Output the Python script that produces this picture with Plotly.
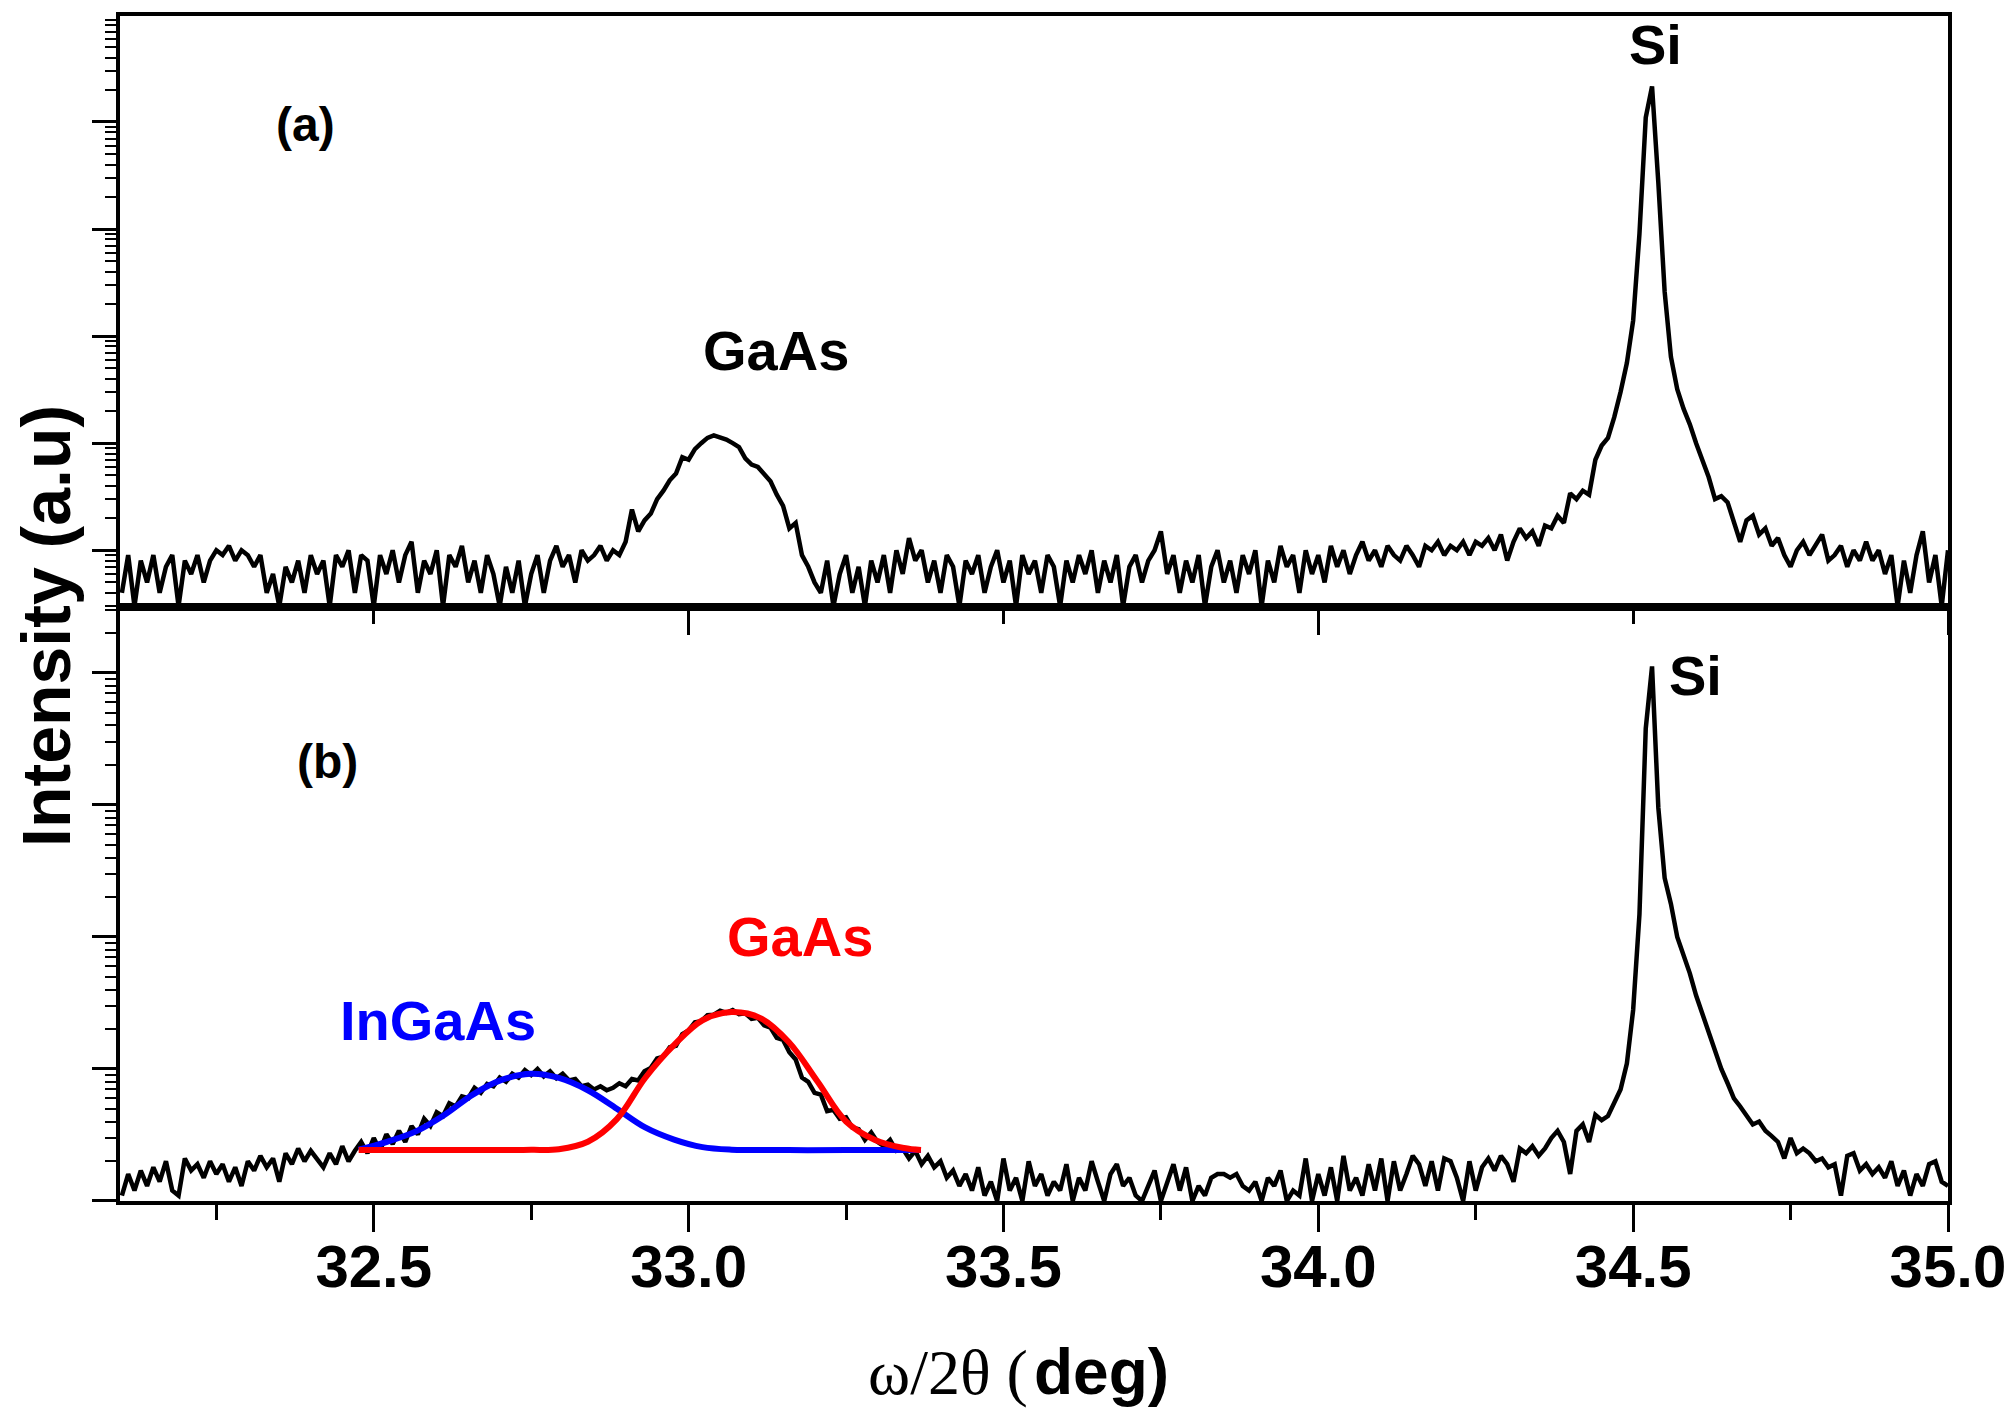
import numpy as np
import plotly.graph_objects as go
from plotly.subplots import make_subplots

# scan: omega/2theta from 32.10 to 35.00 deg, step 0.01
scan_start = 32.10
scan_step = 0.01

# (a) GaAs on Si, counts per step
counts_a = [
    4, 9, 3, 8, 5, 9, 4, 7, 9, 3,
    8, 6, 9, 5, 8, 10, 9, 11, 8, 10,
    9, 7, 9, 4, 6, 3, 7, 5, 8, 4,
    9, 6, 8, 3, 9, 7, 10, 4, 9, 8,
    3, 9, 6, 10, 5, 9, 12, 4, 8, 6,
    10, 3, 9, 7, 11, 5, 8, 4, 9, 6,
    3, 7, 4, 8, 3, 6, 9, 4, 8, 11,
    7, 9, 5, 10, 8, 9, 11, 8, 10, 9,
    12, 24, 15, 19, 22, 30, 36, 45, 52, 74,
    70, 88, 100, 112, 118, 114, 108, 100, 92, 72,
    63, 60, 52, 44, 33, 26, 16, 18, 9, 7,
    5, 4, 8, 3, 6, 9, 4, 7, 3, 8,
    5, 9, 4, 10, 6, 13, 8, 10, 5, 8,
    4, 9, 7, 3, 8, 6, 9, 4, 7, 10,
    5, 8, 3, 9, 6, 8, 4, 9, 7, 3,
    8, 5, 9, 6, 10, 4, 8, 5, 9, 3,
    7, 9, 5, 8, 10, 15, 6, 9, 4, 8,
    5, 9, 3, 7, 10, 5, 8, 4, 9, 6,
    10, 3, 8, 5, 11, 7, 9, 4, 10, 6,
    9, 5, 11, 7, 10, 6, 9, 12, 8, 10,
    7, 11, 9, 8, 11, 9, 7, 11, 10, 12,
    9, 11, 10, 12, 9, 12, 11, 13, 10, 14,
    8, 12, 16, 13, 15, 11, 17, 16, 21, 18,
    34, 30, 36, 33, 70, 95, 112, 175, 300, 560,
    1400, 9000, 110000, 215000, 27000, 2600, 640, 320, 210, 150,
    100, 70, 48, 30, 32, 28, 18, 12, 19, 21,
    14, 16, 11, 13, 9, 7, 10, 12, 9, 11,
    14, 8, 9, 11, 7, 10, 8, 12, 8, 10,
    6, 9, 3, 8, 4, 9, 15, 5, 9, 3,
    10,
]

# (b) InGaAs/GaAs on Si
counts_b = [
    11, 16, 12, 17, 13, 18, 14, 20, 12, 11,
    21, 17, 19, 15, 20, 16, 19, 14, 18, 13,
    20, 17, 22, 18, 21, 14, 23, 19, 25, 20,
    24, 21, 18, 23, 19, 26, 20, 24, 28, 23,
    30, 24, 32, 27, 34, 28, 37, 32, 42, 37,
    47, 44, 55, 52, 62, 60, 72, 66, 77, 74,
    86, 80, 92, 86, 98, 90, 100, 88, 96, 85,
    92, 82, 84, 74, 76, 70, 74, 69, 72, 78,
    74, 84, 82, 96, 102, 120, 124, 146, 150, 184,
    196, 226, 230, 256, 258, 276, 266, 280, 260, 264,
    240, 244, 214, 206, 172, 166, 134, 118, 86, 80,
    66, 64, 48, 49, 42, 43, 36, 35, 29, 33,
    28, 26, 29, 24, 25, 21, 24, 19, 22, 18,
    20, 15, 17, 13, 16, 12, 18, 11, 14, 10,
    21, 12, 15, 10, 20, 13, 16, 11, 14, 12,
    19, 10, 15, 12, 20, 14, 10, 16, 19, 13,
    15, 11, 10, 13, 17, 10, 14, 19, 12, 18,
    10, 13, 11, 15, 16, 16, 15, 16, 13, 12,
    14, 10, 15, 13, 17, 10, 12, 11, 21, 10,
    16, 11, 18, 10, 22, 12, 15, 11, 19, 12,
    21, 10, 20, 12, 16, 22, 19, 13, 20, 12,
    21, 20, 15, 10, 20, 12, 18, 21, 17, 22,
    19, 14, 25, 23, 26, 22, 25, 30, 34, 28,
    16, 34, 38, 28, 45, 41, 44, 56, 70, 110,
    280, 1480, 38000, 112000, 9500, 2800, 1780, 1000, 740, 530,
    360, 260, 190, 140, 100, 78, 60, 52, 44, 38,
    40, 34, 31, 28, 21, 30, 23, 25, 23, 20,
    21, 18, 19, 11, 22, 23, 17, 19, 16, 18,
    15, 20, 13, 17, 11, 16, 13, 19, 20, 14,
    13,
]

# gaussian fit curves
ingaas_fit_x = [32.476, 32.521, 32.567, 32.612, 32.658, 32.703, 32.749, 32.794,
                32.840, 32.886, 32.931, 32.977, 33.022, 33.068, 33.159, 33.25, 33.369]
ingaas_fit_y = [24.5, 28.1, 33.7, 44.9, 64.3, 82.6, 92.0, 85.5,
                69.0, 50.0, 36.1, 29.2, 25.6, 24.5, 24.3, 24.3, 24.3]
gaas_fit_x = [32.476, 32.55, 32.63, 32.703, 32.75, 32.794, 32.840, 32.886, 32.931, 32.977,
              33.022, 33.068, 33.114, 33.159, 33.205, 33.250, 33.296, 33.342, 33.369]
gaas_fit_y = [24.3, 24.3, 24.3, 24.3, 24.4, 24.7, 28.1, 41.7, 85.5, 152,
              234, 270, 243, 160, 80, 40, 29, 25.2, 24.3]

assert len(counts_a) == len(counts_b) == 291
scan = np.round(scan_start + scan_step * np.arange(len(counts_a)), 3)

X_RANGE = [32.097, 35.0]
SANS = "Arial, Liberation Sans, sans-serif"

fig = make_subplots(rows=2, cols=1, vertical_spacing=0, row_heights=[0.4987, 0.5013])

fig.add_trace(go.Scatter(x=scan, y=counts_a, mode="lines",
                         line=dict(color="black", width=4.5)), row=1, col=1)
fig.add_trace(go.Scatter(x=scan, y=counts_b, mode="lines",
                         line=dict(color="black", width=4.5)), row=2, col=1)
fig.add_trace(go.Scatter(x=ingaas_fit_x, y=ingaas_fit_y, mode="lines",
                         line=dict(color="#0000ff", width=6, shape="spline")), row=2, col=1)
fig.add_trace(go.Scatter(x=gaas_fit_x, y=gaas_fit_y, mode="lines",
                         line=dict(color="#ff0000", width=6, shape="spline")), row=2, col=1)

axis_common = dict(showline=True, linewidth=4, linecolor="black", mirror=True,
                   showgrid=False, zeroline=False, ticks="outside",
                   tickcolor="black", tickwidth=3)

fig.update_xaxes(axis_common, range=X_RANGE, row=1, col=1,
                 tick0=0, dtick=1, ticklen=24, showticklabels=False,
                 minor=dict(ticks="outside", dtick=0.5, ticklen=13,
                            tickwidth=3, tickcolor="black"))
fig.update_xaxes(axis_common, range=X_RANGE, row=2, col=1,
                 tick0=32.5, dtick=0.5, ticklen=27, tickformat=".1f",
                 ticklabelstandoff=-17,
                 tickfont=dict(family=SANS, size=60, color="black", weight="bold"),
                 minor=dict(ticks="outside", dtick=0.25, ticklen=15,
                            tickwidth=3, tickcolor="black"))

y_minor = dict(ticks="outside", dtick="D1", ticklen=11, tickwidth=2, tickcolor="black")
fig.update_yaxes(axis_common, type="log", range=[0.47, 5.99], row=1, col=1,
                 dtick=1, ticklen=24, showticklabels=False, minor=y_minor)
fig.update_yaxes(axis_common, type="log", range=[1.0, 5.5], row=2, col=1,
                 dtick=1, ticklen=24, showticklabels=False, minor=y_minor)

# peak labels (y in log10 units since the axes are log)
def label(text, x, y, size=56, color="black", xref="x", yref="y"):
    fig.add_annotation(text=text, x=x, y=y, xref=xref, yref=yref, showarrow=False,
                       xanchor="center", yanchor="middle",
                       font=dict(family=SANS, size=size, color=color, weight="bold"))

label("(a)", 32.391, 4.98, size=48)
label("GaAs", 33.139, 2.87)
label("Si", 34.536, 5.72)
label("(b)", 32.426, 4.33, size=48, xref="x2", yref="y2")
label("InGaAs", 32.602, 2.37, color="#0000ff", xref="x2", yref="y2")
label("GaAs", 33.177, 3.0, color="#ff0000", xref="x2", yref="y2")
label("Si", 34.599, 4.98, xref="x2", yref="y2")

# shared y title and the mixed-font x title
fig.add_annotation(text="Intensity (a.u)", textangle=-90, x=-0.0405, y=0.4853,
                   xref="paper", yref="paper", showarrow=False,
                   xanchor="center", yanchor="middle",
                   font=dict(family=SANS, size=68, color="black", weight="bold"))
fig.add_annotation(text="\u03c9/2\u03b8 (", x=0.4978, y=-0.1447,
                   xanchor="right", yanchor="middle",
                   xref="paper", yref="paper", showarrow=False,
                   font=dict(family="Times New Roman, Liberation Serif, serif", size=64, color="black"))
fig.add_annotation(text="deg)", x=0.4989, y=-0.1447,
                   xanchor="left", yanchor="middle",
                   xref="paper", yref="paper", showarrow=False,
                   font=dict(family=SANS, size=64, color="black", weight="bold"))

# the page body adds 8px, so the left/top margins are trimmed by that
fig.update_layout(width=2016, height=1416, showlegend=False,
                  margin=dict(l=112, r=76, t=4, b=223),
                  paper_bgcolor="white", plot_bgcolor="white")

fig.write_html("out.html")
